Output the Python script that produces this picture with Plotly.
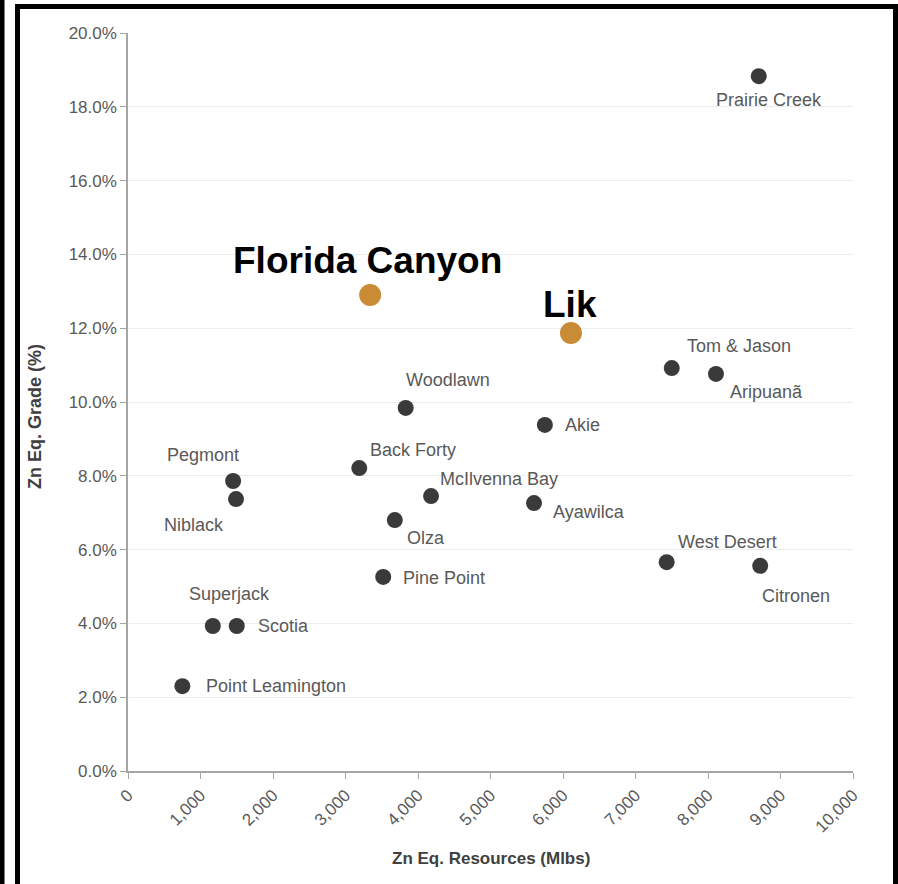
import plotly.graph_objects as go

# ---- data ----
names = ["Prairie Creek", "Tom & Jason", "Aripuanã", "Woodlawn", "Akie", "Pegmont",
         "Niblack", "Back Forty", "McIlvenna Bay", "Ayawilca", "Olza", "Pine Point",
         "West Desert", "Citronen", "Superjack", "Scotia", "Point Leamington"]
resources = [8700, 7500, 8110, 3830, 5750, 1450, 1490, 3190, 4180, 5600, 3680, 3520,
             7430, 8720, 1170, 1500, 750]
grade = [0.1883, 0.1092, 0.1076, 0.0984, 0.0938, 0.0786, 0.0737, 0.0821, 0.0745,
         0.0726, 0.0680, 0.0526, 0.0566, 0.0556, 0.0393, 0.0393, 0.0230]

hl_names = ["Florida Canyon", "Lik"]
hl_resources = [3340, 6110]
hl_grade = [0.1290, 0.1187]

x_ticks = [0, 1000, 2000, 3000, 4000, 5000, 6000, 7000, 8000, 9000, 10000]
y_ticks = [0.0, 0.02, 0.04, 0.06, 0.08, 0.10, 0.12, 0.14, 0.16, 0.18, 0.20]

# label placement (style): (xanchor, xshift, yshift)
label_pos = {
    "Prairie Creek": ("center", 10, -24),
    "Tom & Jason": ("left", 13, 22),
    "Aripuanã": ("left", 12, -18),
    "Woodlawn": ("left", -2, 28),
    "Akie": ("left", 18, 0),
    "Pegmont": ("center", -30, 26),
    "Niblack": ("right", -10, -26),
    "Back Forty": ("left", 9, 18),
    "McIlvenna Bay": ("left", 7, 17),
    "Ayawilca": ("left", 17, -9),
    "Olza": ("left", 10, -18),
    "Pine Point": ("left", 18, -1),
    "West Desert": ("left", 9, 20),
    "Citronen": ("left", 0, -30),
    "Superjack": ("center", 17, 32),
    "Scotia": ("left", 19, 0),
    "Point Leamington": ("left", 22, 0),
}
hl_pos = {"Florida Canyon": ("center", -3, 34), "Lik": ("center", -1, 29)}

FONT = "Liberation Sans, Arial, sans-serif"

fig = go.Figure()
fig.add_trace(go.Scatter(x=resources, y=grade, mode="markers",
                         marker=dict(size=16, color="#3a3a3a"),
                         hoverinfo="skip", showlegend=False))
fig.add_trace(go.Scatter(x=hl_resources, y=hl_grade, mode="markers",
                         marker=dict(size=22, color="#c98b35"),
                         hoverinfo="skip", showlegend=False))

annotations = []
for n, xv, yv in zip(names, resources, grade):
    xa, xs, ys = label_pos[n]
    annotations.append(dict(x=xv, y=yv, xref="x", yref="y", text=n, showarrow=False,
                            xanchor=xa, yanchor="middle", xshift=xs, yshift=ys,
                            font=dict(family=FONT, size=18, color="#595959")))
for n, xv, yv in zip(hl_names, hl_resources, hl_grade):
    xa, xs, ys = hl_pos[n]
    annotations.append(dict(x=xv, y=yv, xref="x", yref="y", text="<b>" + n + "</b>",
                            showarrow=False, xanchor=xa, yanchor="middle",
                            xshift=xs, yshift=ys,
                            font=dict(family=FONT, size=37, color="#000000")))
# y axis title
annotations.append(dict(x=-0.128, y=0.48, xref="paper", yref="paper",
                        text="<b>Zn Eq. Grade (%)</b>", textangle=-90, showarrow=False,
                        xanchor="center", yanchor="middle",
                        font=dict(family=FONT, size=18, color="#404040")))
# x axis title
annotations.append(dict(x=0.5, y=-0.118, xref="paper", yref="paper",
                        text="<b>Zn Eq. Resources (Mlbs)</b>", showarrow=False,
                        xanchor="center", yanchor="middle",
                        font=dict(family=FONT, size=17, color="#404040")))

shapes = [
    dict(type="rect", xref="paper", yref="paper", x0=-0.1524, x1=1.0586,
         y0=-0.2, y1=1.0359, line=dict(color="#000000", width=5), fillcolor="rgba(0,0,0,0)"),
    dict(type="line", xref="paper", yref="paper", x0=-0.1738, x1=-0.1738,
         y0=-0.2, y1=1.1, line=dict(color="#000000", width=5)),
]

fig.update_layout(
    width=898, height=884,
    margin=dict(l=128, r=45, t=33, b=113),
    paper_bgcolor="white", plot_bgcolor="white",
    annotations=annotations, shapes=shapes,
    font=dict(family=FONT),
)
fig.update_xaxes(range=[0, 10000], tickvals=x_ticks, tickformat=",", tickangle=-45,
                 showgrid=False, zeroline=False, showline=True, linecolor="#a6a6a6",
                 linewidth=1.5, ticks="outside", ticklen=6, tickcolor="#a6a6a6",
                 tickfont=dict(family=FONT, size=17, color="#595959"))
fig.update_yaxes(range=[0, 0.20], tickvals=y_ticks, tickformat=".1%",
                 showgrid=True, gridcolor="#ececec", gridwidth=1, zeroline=False,
                 showline=True, linecolor="#a6a6a6", linewidth=1.5,
                 ticks="outside", ticklen=6, tickcolor="#a6a6a6",
                 tickfont=dict(family=FONT, size=17, color="#595959"))

fig.write_html("out.html",
               config={"displayModeBar": False},
               post_script="document.body.style.margin='0';"
                           "document.body.style.overflow='hidden';")
